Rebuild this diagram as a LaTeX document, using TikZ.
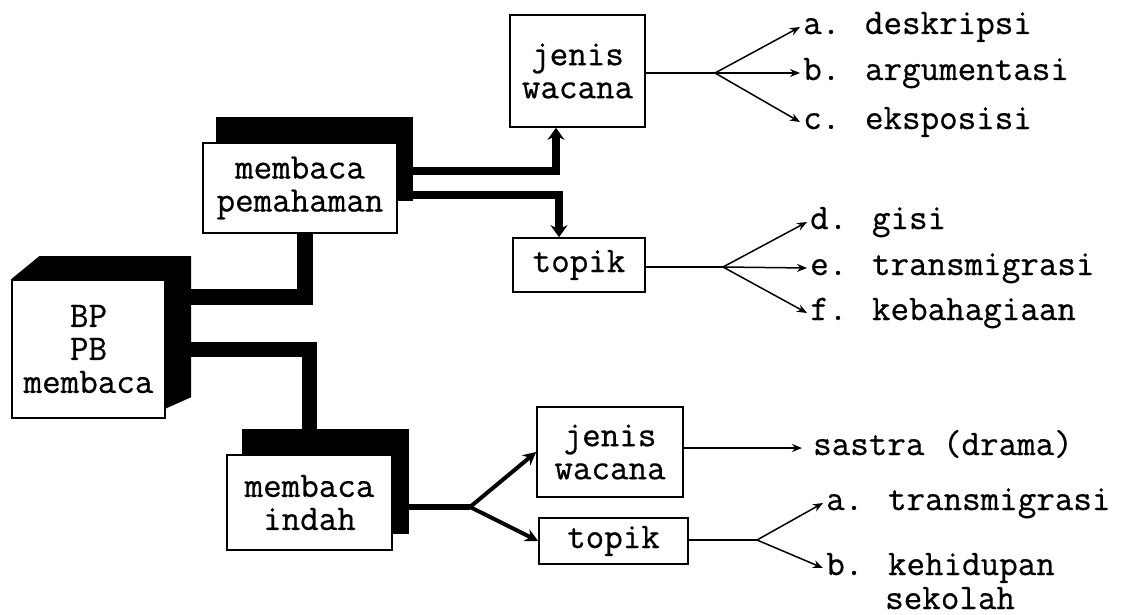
\documentclass[tikz,border=0pt]{standalone}
\usepackage{fontspec}
\newfontfamily\typeface{Latin Modern Mono}[FakeBold=0.6]
\usetikzlibrary{arrows.meta,backgrounds}

\tikzset{
  box/.style={draw, line width=1.6pt, fill=white, inner sep=0pt, align=center},
  item/.style={anchor=west, inner sep=3pt, text height=22pt, text depth=8pt},
  twig/.style={line width=1.5pt},
  twigarrow/.style={line width=1.5pt, -{Stealth[length=10pt,width=8pt]}},
  pipe/.style={line width=#1, line join=miter},
}

\begin{document}
\begin{tikzpicture}[x=1pt, y=-1pt, font=\typeface\fontsize{36}{33}\selectfont]
  \useasboundingbox (0,0) rectangle (1129,615);

  % boxes
  \node[box, minimum width=153pt, minimum height=138pt] (bp)  at (88.5,349)  {BP\\PB\\membaca};
  \node[box, minimum width=194pt, minimum height=90pt]  (pem) at (300,188)   {membaca\\pemahaman};
  \node[box, minimum width=165pt, minimum height=95pt]  (ind) at (309.5,502.5) {membaca\\indah};
  \node[box, minimum width=135pt, minimum height=112pt] (jw1) at (577.5,71)  {jenis\\wacana};
  \node[box, minimum width=132pt, minimum height=54pt]  (tp1) at (579,265)   {topik};
  \node[box, minimum width=146pt, minimum height=90pt]  (jw2) at (610,452)   {jenis\\wacana};
  \node[box, minimum width=149pt, minimum height=46pt]  (tp2) at (613.5,541) {topik};

  % shadows behind the boxes
  \begin{scope}[on background layer]
    \fill (bp.north west) -- ++(28,-23) -- ++(152,0) -- ++(0,141) -- ++(-27,12)
      -- (bp.north east) -- cycle;
    \fill ([shift={(14,-25)}]pem.north west) rectangle ([shift={(15,-33)}]pem.south east);
    \fill ([shift={(16,-25)}]ind.north west) rectangle ([shift={(16,-17)}]ind.south east);
  \end{scope}

  % heavy connectors
  \draw[pipe=16pt] ([yshift=-18pt]bp.north east) -| ([xshift=5pt]pem.south);
  \draw[pipe=15pt] ([yshift=-70pt]bp.north east) -| ([yshift=25pt]ind.north);
  \draw[pipe=8pt, -{Stealth[length=12pt,width=17pt]}]
    ([shift={(15,-17)}]pem.east) -| ([xshift=-21.5pt]jw1.south);
  \draw[pipe=8pt, -{Stealth[length=12pt,width=17pt]}]
    ([shift={(15,7)}]pem.east) -| ([xshift=-20pt]tp1.north);

  \coordinate (br4) at (470,507);
  \draw[pipe=6pt] ([shift={(16,4.5)}]ind.east) -- (br4);
  \foreach \t in {jw2,tp2}
    \draw[line width=4pt, -{Stealth[length=13pt,width=13pt]}] (br4) -- (\t.west);

  % items
  \node[item] (la)  at (800,27)  {a. deskripsi};
  \node[item] (lb)  at (800,73)  {b. argumentasi};
  \node[item] (lc)  at (800,122) {c. eksposisi};
  \node[item] (ld)  at (807,222) {d. gisi};
  \node[item] (le)  at (807,268) {e. transmigrasi};
  \node[item] (lf)  at (807,313) {f. kebahagiaan};
  \node[item] (ls)  at (810,448) {sastra (drama)};
  \node[item] (lta) at (823,503) {a. transmigrasi};
  \node[item] (ltb) at (823,568) {b. kehidupan};
  \node[item, anchor=base west, inner sep=0pt, text depth=0pt] (ltc)
    at ([xshift=62pt,yshift=-34pt]ltb.base west) {sekolah};

  % thin branches
  \coordinate (br1) at (715,73);
  \coordinate (br2) at (723,267);
  \coordinate (br3) at (757,540);
  \draw[twig] (jw1.east |- br1) -- (br1);
  \foreach \n in {la,lb,lc} \draw[twigarrow] (br1) -- (\n.west);
  \draw[twig] (tp1.east |- br2) -- (br2);
  \foreach \n in {ld,le,lf} \draw[twigarrow] (br2) -- (\n.west);
  \draw[twigarrow, shorten >=8pt] (jw2.east |- ls.west) -- (ls.west);
  \draw[twig] (tp2.east |- br3) -- (br3);
  \foreach \n in {lta,ltb} \draw[twigarrow] (br3) -- (\n.west);
\end{tikzpicture}
\end{document}
